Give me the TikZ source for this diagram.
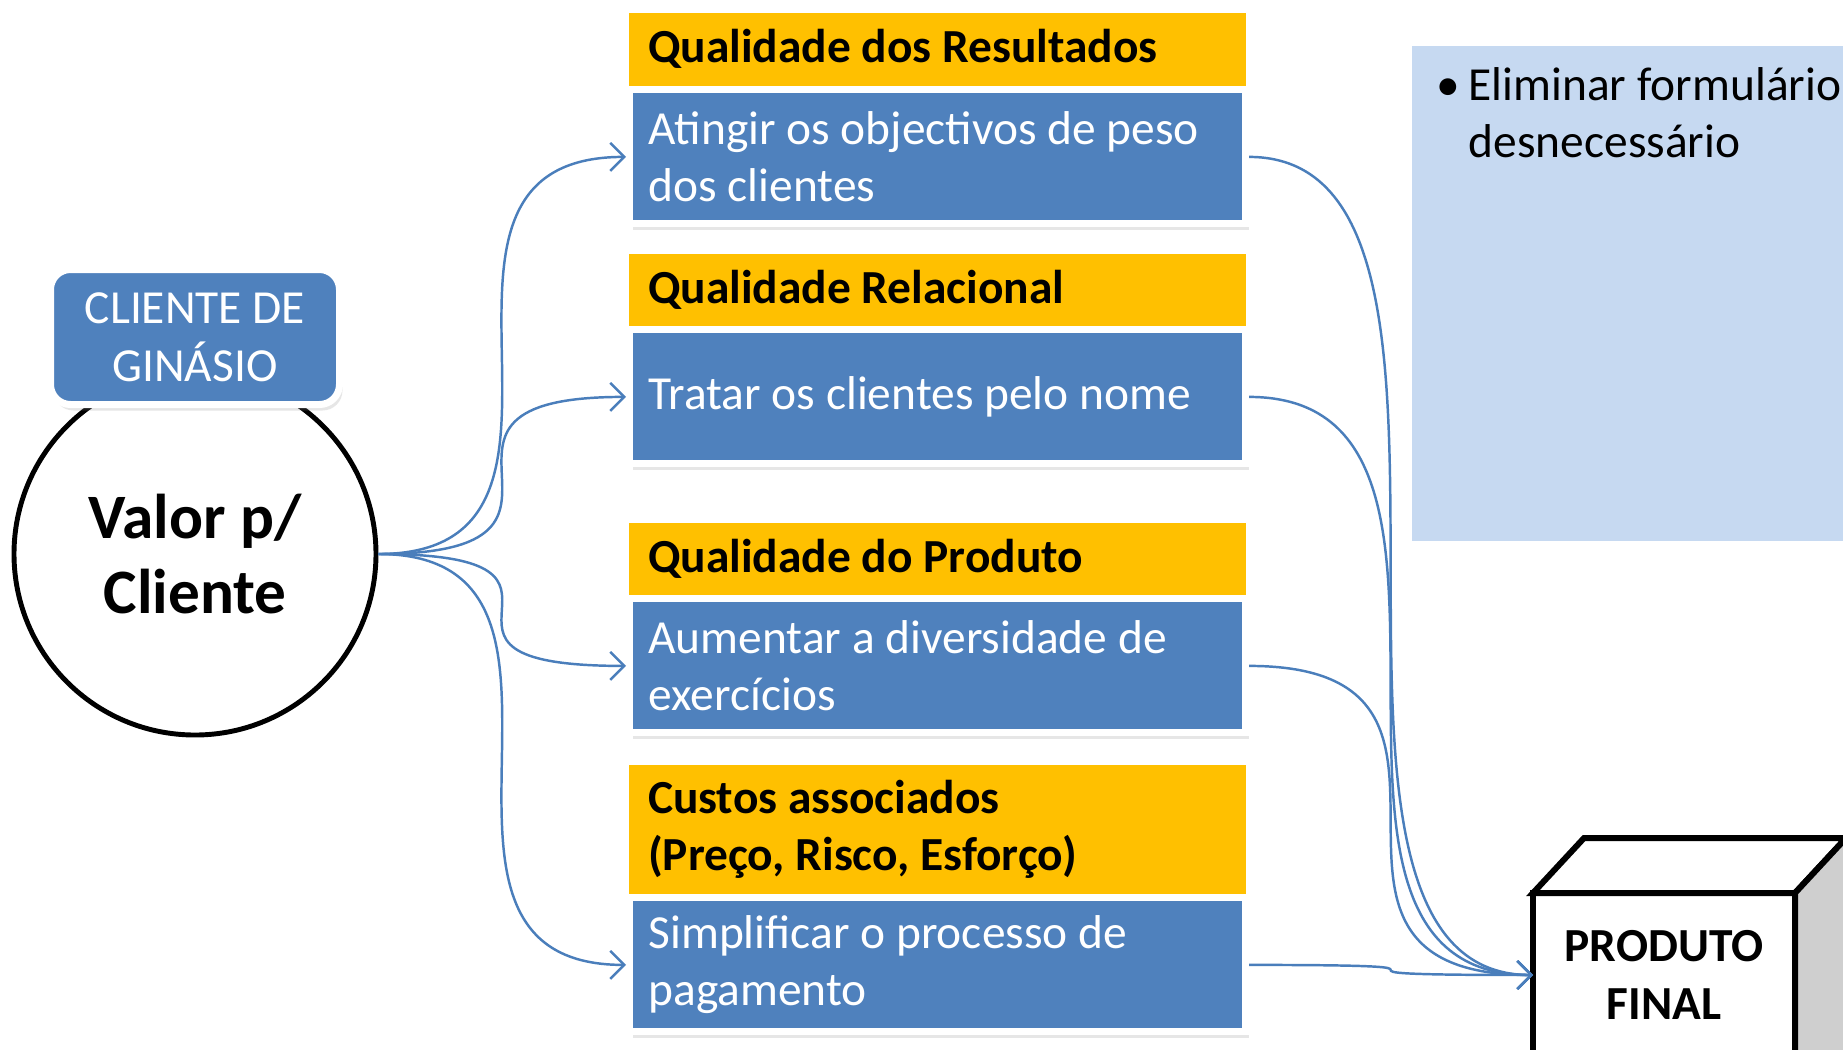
\documentclass[tikz,border=0pt]{standalone}
\usepackage{fontspec}
\setmainfont{Carlito}
\usetikzlibrary{arrows.meta,positioning,shadows}
\definecolor{ouro}{HTML}{FFC000}
\definecolor{azul}{HTML}{4F81BD}
\definecolor{linha}{HTML}{4A7EBB}
\definecolor{celeste}{HTML}{C6D9F1}
\definecolor{cinza}{HTML}{CFCFCF}
\tikzset{
  %Define standard arrow tip
  >={Straight Barb[length=1.4mm,width=2.8mm]},
  %Define style for headers
  titulo/.style={
    rectangle,
    fill=ouro,
    minimum width=61.7mm,
    text width=57.9mm,
    inner xsep=1.9mm,
    align=flush left,
    font=\fontsize{13.5}{16.2}\selectfont\bfseries},
  %Define style for boxes
  caixa/.style={
    rectangle,
    fill=azul,
    draw=white, line width=0.7mm,
    minimum width=61.6mm,
    minimum height=13.4mm,
    text width=57.8mm,
    inner xsep=1.9mm,
    align=flush left,
    text=white,
    font=\fontsize{13.5}{16.2}\selectfont,
    drop shadow={shadow xshift=0.3mm,shadow yshift=-0.6mm,opacity=0.2}},
  % Define arrow style
  seta/.style={
    ->,
    color=linha,
    line width=0.7pt},
  esq/.style={out=0,in=180,distance=25.3mm},
  dir/.style={out=0,in=180,distance=28.1mm},
  cubo/.style={draw=black,line width=0.6mm,line join=miter}
}

\begin{document}
\begin{tikzpicture}[x=0.1mm,y=-0.1mm]
  \useasboundingbox (0,0) rectangle (1843,1049);
  \clip (0,0) rectangle (1843,1049);

  \node[draw, circle, line width=1.4pt, fill=white, minimum size=36.2mm,
    font=\fontsize{18}{21.5}\selectfont\bfseries, align=center] (valor) at (195,554) {Valor p/\\Cliente};
  \node[rectangle, rounded corners=2mm, fill=azul, draw=white, line width=0.7mm,
    minimum width=28.9mm, minimum height=13.5mm, text=white, align=center,
    font=\fontsize{13.5}{16.5}\selectfont,
    drop shadow={shadow xshift=0.3mm,shadow yshift=-0.6mm,opacity=0.2}] (cliente) at (195,337) {CLIENTE DE\\GINÁSIO};

  \node[titulo, minimum height=7.3mm, anchor=north] (t1) at (937.5,12) {Qualidade dos Resultados};
  \node[caixa, below=0pt of t1] (c1) {Atingir os objectivos de peso\\dos clientes};
  \node[titulo, minimum height=7.2mm, anchor=north] (t2) at (937.5,253) {Qualidade Relacional};
  \node[caixa, below=0pt of t2] (c2) {Tratar os clientes pelo nome};
  \node[titulo, minimum height=7.2mm, anchor=north] (t3) at (937.5,522) {Qualidade do Produto};
  \node[caixa, below=0pt of t3] (c3) {Aumentar a diversidade de\\exercícios};
  \node[titulo, minimum height=12.9mm, anchor=north] (t4) at (937.5,764) {Custos associados\\(Preço, Risco, Esforço)};
  \node[caixa, below=0pt of t4] (c4) {Simplificar o processo de\\pagamento};

  \node[fill=celeste, inner sep=0pt, minimum width=43.2mm, minimum height=49.5mm, anchor=north west] (painel) at (1411,45) {};
  \node[anchor=base west, inner sep=0pt, align=flush left, font=\fontsize{13.5}{16.2}\selectfont] (item) at (1436,157)
    {\makebox[3.2mm][l]{\textbullet}Eliminar formulário\\\hspace*{3.2mm}desnecessário};

  % produto final
  \node[cubo, fill=white, outer sep=0pt, minimum width=26.2mm, minimum height=16.4mm,
    font=\fontsize{13.5}{16.5}\selectfont\bfseries, align=center] (produto) at (1664,975) {PRODUTO\\FINAL};
  \filldraw[cubo, fill=white] (produto.north west) -- ++(51,-55) -- ++(262,0) -- (produto.north east) -- cycle;
  \filldraw[cubo, fill=cinza] (produto.north east) -- ++(51,-55) -- ++(0,300) -- (produto.south east) -- cycle;

  \path[seta] (valor.east) edge[esq] (c1.west) edge[esq] (c2.west) edge[esq] (c3.west) edge[esq] (c4.west);
  \path[seta]
    (c1.east) edge[dir] (produto.west)
    (c2.east) edge[dir] (produto.west)
    (c3.east) edge[dir] (produto.west)
    (c4.east) edge[dir] (produto.west);
\end{tikzpicture}
\end{document}
